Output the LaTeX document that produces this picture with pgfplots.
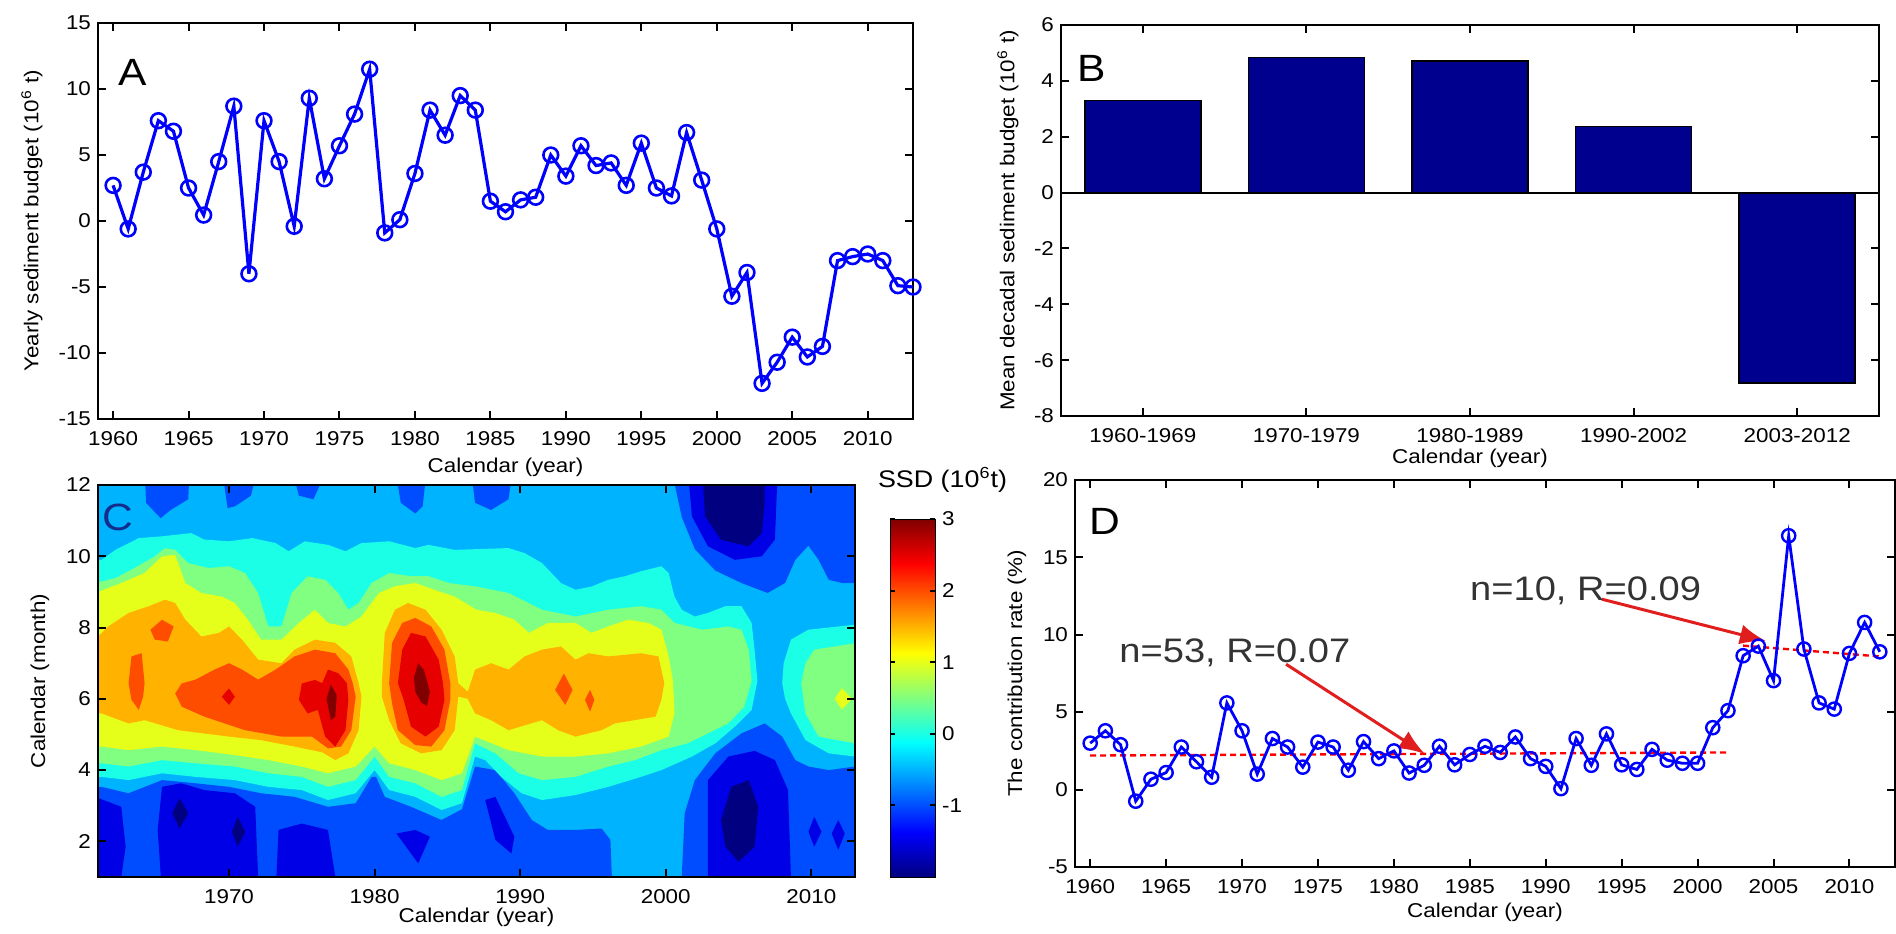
\documentclass[border=0pt]{standalone}
\usepackage{fontspec}
\setmainfont{Liberation Sans}[FakeStretch=1.12]
\usepackage{pgfplots}
\pgfplotsset{compat=1.18}
\usetikzlibrary{arrows.meta}

\definecolor{barblue}{RGB}{0,0,143}
\definecolor{arrowred}{RGB}{225,30,30}
\definecolor{letterblue}{RGB}{20,45,140}
% contour band colours (jet, 0.5 steps)
\definecolor{cN}{RGB}{0,0,128}
\definecolor{cB}{RGB}{0,0,230}
\definecolor{cR}{RGB}{0,77,255}
\definecolor{cS}{RGB}{0,179,255}
\definecolor{cC}{RGB}{26,255,230}
\definecolor{cG}{RGB}{128,255,128}
\definecolor{cY}{RGB}{230,255,26}
\definecolor{cO}{RGB}{255,179,0}
\definecolor{cRO}{RGB}{255,77,0}
\definecolor{cRD}{RGB}{230,0,0}
\definecolor{cDR}{RGB}{128,0,0}
% jet stops for the colour bar
\definecolor{j0}{RGB}{0,0,128}
\definecolor{j1}{RGB}{0,0,255}
\definecolor{j2}{RGB}{0,255,255}
\definecolor{j3}{RGB}{255,255,0}
\definecolor{j4}{RGB}{255,0,0}
\definecolor{j5}{RGB}{128,0,0}

\tikzset{letter/.style={font=\fontsize{19}{19}\selectfont, inner sep=0pt}}

\pgfplotsset{
  panel/.style={
    scale only axis,
    anchor=south west,
    axis line style={line width=1.4pt},
    tick align=inside,
    major tick length=4pt,
    every tick/.style={black, line width=1pt},
    tick label style={font=\fontsize{10}{11}\selectfont},
    label style={font=\fontsize{13.5}{15}\selectfont},
    /pgf/number format/assume math mode=true,
    /pgf/number format/set thousands separator={},
    xticklabel shift=2.5pt,
  },
  xlab/.style={every axis x label/.style={at={(axis description cs:0.5,0)}, anchor=center, yshift=-#1}},
  ylab/.style={every axis y label/.style={at={([xshift=-#1]axis description cs:0,0.5)}, rotate=90, anchor=center}},
  band/.style={draw=none, fill=#1, forget plot},
}

\begin{document}
\begin{tikzpicture}
\useasboundingbox (0,0) rectangle (948pt,466.5pt);

% ---------------- A: yearly sediment budget
\begin{axis}[panel, at={(49pt,257pt)}, width=407.5pt, height=198pt,
  xmin=1959, xmax=2013, ymin=-15, ymax=15,
  xtick={1960,1965,...,2010}, ytick={-15,-10,...,15},
  xlabel={Calendar (year)}, ylabel={Yearly sediment budget (10\textsuperscript{6} t)},
  xlab=24pt, ylab=33pt,
]
\addplot[blue, line width=1.6pt, mark=o, mark size=3.7pt, mark options={line width=1.3pt}] coordinates {
  (1960,2.7) (1961,-0.6) (1962,3.7) (1963,7.6) (1964,6.8) (1965,2.5) (1966,0.45) (1967,4.5)
  (1968,8.7) (1969,-4.0) (1970,7.6) (1971,4.5) (1972,-0.4) (1973,9.3) (1974,3.2) (1975,5.7)
  (1976,8.1) (1977,11.5) (1978,-0.9) (1979,0.1) (1980,3.6) (1981,8.4) (1982,6.5) (1983,9.5)
  (1984,8.4) (1985,1.5) (1986,0.7) (1987,1.6) (1988,1.8) (1989,5.0) (1990,3.4) (1991,5.7)
  (1992,4.2) (1993,4.4) (1994,2.7) (1995,5.9) (1996,2.5) (1997,1.9) (1998,6.7) (1999,3.1)
  (2000,-0.6) (2001,-5.7) (2002,-3.9) (2003,-12.3) (2004,-10.7) (2005,-8.8) (2006,-10.3)
  (2007,-9.5) (2008,-3.0) (2009,-2.7) (2010,-2.5) (2011,-3.0) (2012,-4.9) (2013,-5.0)
};
\node[letter] at (rel axis cs:0.043,0.874) {A};
\end{axis}

% ---------------- B: mean decadal budget
\begin{axis}[panel, at={(530.5pt,258.5pt)}, width=409pt, height=195.5pt,
  xmin=0.5, xmax=5.5, ymin=-8, ymax=6,
  xtick={1,2,3,4,5},
  xticklabels={1960-1969,1970-1979,1980-1989,1990-2002,2003-2012},
  ytick={-8,-6,...,6},
  xlabel={Calendar (year)}, ylabel={Mean decadal sediment budget (10\textsuperscript{6} t)},
  xlab=21pt, ylab=26.5pt,
]
\addplot[ybar, bar width=0.71, fill=barblue, draw=black, line width=0.8pt] coordinates {
  (1,3.29) (2,4.84) (3,4.70) (4,2.36) (5,-6.82)
};
\addplot[black, line width=1pt] coordinates {(0.5,0) (5.5,0)};
\node[letter] at (rel axis cs:0.038,0.89) {B};
\end{axis}

% ---------------- C: monthly SSD, filled contour bands
\begin{axis}[panel, at={(49pt,28pt)}, width=378.5pt, height=196pt,
  axis on top,
  xmin=1961, xmax=2013, ymin=1, ymax=12,
  xtick={1970,1980,...,2010}, ytick={2,4,...,12},
  xlabel={Calendar (year)}, ylabel={Calendar (month)},
  xlab=20pt, ylab=29pt,
]
% background band (-0.5 .. 0)
\addplot[band=cS] coordinates {(1960.5,0.5) (2013.5,0.5) (2013.5,12.5) (1960.5,12.5)} -- cycle;
% bands below -0.5
\addplot[band=cR] coordinates {(1964.2,12.5) (1964.3,11.5) (1965.3,11.07) (1966.0,11.3) (1967.2,11.6) (1967.3,12.5)} -- cycle;
\addplot[band=cR] coordinates {(1969.5,12.5) (1969.9,11.35) (1970.4,11.4) (1971.5,11.7) (1972.0,12.5)} -- cycle;
\addplot[band=cR] coordinates {(1974.3,12.5) (1974.8,11.7) (1975.8,11.6) (1976.8,12.5)} -- cycle;
\addplot[band=cR] coordinates {(1981.4,12.5) (1981.8,11.5) (1982.8,11.2) (1983.3,11.4) (1983.6,12.5)} -- cycle;
\addplot[band=cR] coordinates {(1986.6,12.5) (1986.9,11.5) (1988.0,11.3) (1989.2,11.6) (1989.5,12.5)} -- cycle;
\addplot[band=cR] coordinates {(2000.6,12.5) (2000.6,12.05) (2001.1,11.1) (2002.0,10.2) (2003.4,9.6) (2005.2,9.25)
  (2007.0,8.97) (2008.2,9.25) (2008.9,9.9) (2009.8,10.3) (2010.5,9.9) (2011.2,9.34) (2012.1,9.25) (2013.5,9.25) (2013.5,12.5)} -- cycle;
\addplot[band=cR] coordinates {(1960.5,3.53) (1961.25,3.53) (1963.1,3.35) (1965.4,3.72) (1967.7,3.63) (1970.0,3.53)
  (1972.2,3.35) (1974.5,3.25) (1976.8,2.97) (1978.7,3.07) (1979.8,3.81) (1980.1,3.81) (1980.7,3.25) (1982.5,2.97)
  (1984.6,2.6) (1986.0,2.9) (1986.9,4.1) (1988.3,4.0) (1989.6,3.35) (1990.8,2.6) (1991.9,2.32) (1993.8,2.32)
  (1995.6,2.36) (1996.2,2.04) (1996.3,1.0) (1996.3,0.5) (1960.5,0.5)} -- cycle;
\addplot[band=cR] coordinates {(2001.1,0.5) (2001.1,1.0) (2001.3,2.79) (2002.0,3.72) (2003.4,4.47) (2005.2,5.03)
  (2006.8,5.31) (2008.0,4.94) (2008.9,4.28) (2009.8,4.1) (2011.2,4.0) (2013.0,4.1) (2013.5,4.1) (2013.5,0.5)} -- cycle;
% bands below -1
\addplot[band=cB] coordinates {(1960.5,3.25) (1960.8,3.25) (1962.6,2.97) (1962.9,1.85) (1962.6,1.0) (1962.6,0.5) (1960.5,0.5)} -- cycle;
\addplot[band=cB] coordinates {(1965.4,0.5) (1965.1,2.32) (1965.4,3.53) (1966.7,3.63) (1968.3,3.44) (1970.4,3.35) (1971.8,2.97) (1972.0,1.0) (1972.0,0.5)} -- cycle;
\addplot[band=cB] coordinates {(1973.2,0.5) (1973.4,2.32) (1975.0,2.5) (1976.8,2.32) (1977.3,1.0) (1977.3,0.5)} -- cycle;
\addplot[band=cB] coordinates {(1981.5,2.22) (1982.8,2.32) (1983.8,2.13) (1983.0,1.38)} -- cycle;
\addplot[band=cB] coordinates {(1987.6,3.16) (1988.3,3.25) (1989.6,2.13) (1989.4,1.66) (1988.3,2.04)} -- cycle;
\addplot[band=cB] coordinates {(2002.9,0.5) (2002.9,3.72) (2004.3,4.38) (2006.1,4.54) (2007.5,4.28) (2008.4,3.44) (2008.6,1.0) (2008.6,0.5)} -- cycle;
\addplot[band=cB] coordinates {(2009.8,2.27) (2010.2,2.69) (2010.7,2.27) (2010.2,1.85)} -- cycle;
\addplot[band=cB] coordinates {(2011.4,2.22) (2011.85,2.6) (2012.3,2.22) (2011.85,1.76)} -- cycle;
\addplot[band=cB] coordinates {(2001.5,12.5) (2001.8,11.12) (2002.9,10.28) (2004.75,9.9) (2006.6,10.0) (2007.5,10.47) (2007.7,12.5)} -- cycle;
% bands below -1.5
\addplot[band=cN] coordinates {(1966.1,2.79) (1966.6,3.21) (1967.2,2.79) (1966.6,2.36)} -- cycle;
\addplot[band=cN] coordinates {(1970.2,2.27) (1970.6,2.69) (1971.1,2.27) (1970.6,1.85)} -- cycle;
\addplot[band=cN] coordinates {(2003.8,2.6) (2004.5,3.53) (2005.7,3.72) (2006.35,2.97) (2006.1,1.85) (2005.0,1.43) (2004.1,1.85)} -- cycle;
\addplot[band=cN] coordinates {(2002.5,12.5) (2002.7,11.12) (2003.8,10.46) (2005.7,10.28) (2006.6,10.65) (2006.8,11.5) (2006.8,12.5)} -- cycle;
% bands above 0
\addplot[band=cC] coordinates {(1960.5,9.9) (1961.25,9.9) (1962.2,10.18) (1963.8,10.51) (1965.4,10.56) (1967.4,10.65)
  (1968.3,10.47) (1970.0,10.42) (1971.6,10.51) (1973.2,10.37) (1974.1,10.14) (1975.2,10.42) (1976.8,10.32)
  (1978.0,10.14) (1979.1,10.37) (1981.0,10.42) (1982.8,10.23) (1983.7,10.32) (1985.5,10.18) (1987.0,10.2)
  (1989.2,10.23) (1990.3,10.09) (1991.5,9.81) (1992.8,9.25) (1993.8,9.06) (1994.9,9.15) (1996.05,9.34)
  (1997.2,9.44) (1998.3,9.58) (1999.7,9.72) (2000.2,9.53) (2000.6,8.87) (2001.1,8.5) (2002.0,8.31)
  (2002.9,8.41) (2004.1,8.6) (2005.2,8.6) (2005.9,8.13) (2006.1,7.38) (2006.3,6.5)
  (2005.9,5.69) (2004.75,5.22) (2003.4,4.75) (2001.8,4.38) (1999.7,4.0) (1998.3,3.81) (1996.05,3.53)
  (1993.8,3.3) (1991.5,3.16) (1990.1,3.35) (1988.7,3.81) (1987.6,4.28) (1986.9,4.38) (1986.0,3.07)
  (1984.6,2.88) (1982.8,3.25) (1981.0,3.44) (1980.0,4.0) (1978.7,3.35) (1976.8,3.16) (1975.0,3.44)
  (1972.7,3.53) (1970.4,3.72) (1967.7,3.81) (1965.4,3.91) (1963.1,3.72) (1961.25,3.81) (1960.5,3.81)} -- cycle;
\addplot[band=cC] coordinates {(2013.5,8.08) (2013.0,8.08) (2009.8,7.94) (2008.6,7.66) (2008.1,7.0) (2008.0,6.44)
  (2008.2,6.0) (2008.6,5.59) (2009.6,4.84) (2011.2,4.47) (2013.0,4.38) (2013.5,4.38)} -- cycle;
% bands above 0.5
\addplot[band=cG] coordinates {(1960.5,9.25) (1960.8,9.25) (1962.2,9.39) (1963.5,9.67) (1964.9,10.0) (1965.6,10.23)
  (1966.3,10.18) (1967.2,9.81) (1968.6,9.67) (1970.0,9.72) (1971.1,9.53) (1972.0,8.97) (1972.7,8.03)
  (1973.6,8.03) (1974.3,8.97) (1975.4,9.44) (1976.6,9.34) (1977.5,8.97) (1978.2,8.5) (1978.9,8.69)
  (1979.8,9.25) (1981.0,9.53) (1982.5,9.44) (1983.7,9.44) (1985.1,9.25) (1987.0,9.15) (1989.2,8.97)
  (1991.5,8.5) (1993.8,8.31) (1996.05,8.5) (1998.3,8.6) (1999.7,8.5) (2000.6,8.13) (2002.5,7.94)
  (2004.3,8.03) (2005.2,7.94) (2005.7,7.38) (2005.9,6.5)
  (2005.4,5.78) (2004.3,5.31) (2002.9,5.03) (2001.5,4.75) (1999.7,4.56) (1997.9,4.28) (1996.05,4.1)
  (1993.8,3.81) (1991.5,3.72) (1989.9,3.91) (1988.3,4.47) (1986.9,4.75) (1986.0,3.44) (1984.6,3.25)
  (1982.8,3.63) (1981.0,3.81) (1980.0,4.38) (1978.7,3.72) (1976.8,3.53) (1975.0,3.81) (1972.7,3.91)
  (1970.4,4.1) (1967.7,4.19) (1965.4,4.28) (1963.1,4.1) (1961.25,4.19) (1960.5,4.19)} -- cycle;
\addplot[band=cG] coordinates {(2013.5,7.56) (2013.0,7.56) (2010.2,7.38) (2009.6,7.0) (2009.3,6.44) (2009.6,5.59)
  (2010.5,4.94) (2013.0,4.75) (2013.5,4.75)} -- cycle;
% bands above 1
\addplot[band=cY] coordinates {(1960.5,8.97) (1960.8,8.97) (1962.6,9.25) (1964.2,9.53) (1965.4,10.0) (1966.3,10.04)
  (1967.0,9.25) (1968.1,8.97) (1969.5,8.87) (1970.4,8.69) (1971.3,8.22) (1972.2,7.66) (1973.6,7.66)
  (1974.8,8.13) (1975.9,8.5) (1976.8,8.13) (1978.0,8.03) (1979.1,8.31) (1980.3,8.97) (1981.4,9.16)
  (1982.8,9.25) (1984.1,9.06) (1985.5,8.87) (1987.0,8.5) (1988.3,8.41) (1989.6,8.22) (1990.6,7.85)
  (1991.9,8.13) (1993.8,8.13) (1994.9,7.85) (1996.05,8.03) (1997.4,8.22) (1998.8,8.13) (1999.7,7.94)
  (2000.2,7.19) (2000.5,6.5)
  (2000.6,5.59) (2000.2,4.94) (1998.3,4.66) (1996.05,4.47) (1993.8,4.38) (1991.5,4.38) (1989.2,4.56)
  (1986.9,4.94) (1986.0,3.91) (1984.6,3.72) (1982.8,4.0) (1981.0,4.19) (1980.0,4.66) (1978.7,4.1)
  (1976.8,3.91) (1975.0,4.1) (1972.7,4.28) (1970.4,4.42) (1967.7,4.56) (1965.4,4.66) (1963.1,4.56)
  (1961.25,4.66) (1960.5,4.66)} -- cycle;
\addplot[band=cY] coordinates {(2011.6,6.0) (2012.1,6.3) (2012.8,6.0) (2012.1,5.7)} -- cycle;
% bands above 1.5
\addplot[band=cO] coordinates {(1960.5,7.66) (1960.8,7.66) (1961.7,8.03) (1963.1,8.41) (1964.5,8.6) (1965.6,8.78)
  (1966.3,8.69) (1967.0,8.22) (1968.1,7.75) (1969.3,7.85) (1970.0,8.03) (1970.9,7.66) (1972.0,7.1)
  (1973.6,7.0) (1974.5,7.38) (1975.9,7.66) (1977.3,7.57) (1978.4,7.19) (1978.9,6.44) (1979.1,6.06)
  (1978.9,5.12) (1978.2,4.47) (1977.3,4.28) (1976.4,4.5) (1974.5,4.66) (1972.2,4.84) (1970.0,4.94)
  (1966.5,5.12) (1964.2,5.4) (1963.1,5.31) (1961.25,5.59) (1960.5,5.59)} -- cycle;
\addplot[band=cO] coordinates {(1980.5,6.44) (1980.7,7.85) (1981.4,8.5) (1982.3,8.69) (1983.5,8.5) (1984.6,7.94)
  (1985.5,7.19) (1985.75,6.44) (1986.4,6.2) (1986.9,6.82) (1988.0,7.0) (1989.2,6.82) (1990.3,7.19)
  (1991.5,7.38) (1992.8,7.47) (1993.8,7.1) (1994.7,7.28) (1996.05,7.19) (1998.3,7.28) (1999.5,7.19)
  (1999.9,6.44) (1999.7,5.97) (1999.3,5.5) (1996.5,5.31) (1995.6,5.12) (1993.8,4.94) (1992.6,5.12)
  (1991.5,5.4) (1989.2,5.12) (1988.0,5.4) (1986.9,5.59) (1986.4,6.0) (1985.75,6.06) (1985.5,5.12)
  (1984.6,4.56) (1983.2,4.47) (1981.8,4.75) (1981.0,5.4) (1980.5,6.06)} -- cycle;
% bands above 2
\addplot[band=cRO] coordinates {(1964.6,7.94) (1965.4,8.22) (1966.2,8.03) (1965.8,7.61) (1964.9,7.66)} -- cycle;
\addplot[band=cRO] coordinates {(1963.1,6.44) (1963.3,7.19) (1964.0,7.28) (1964.2,6.44) (1964.1,6.06) (1963.8,5.69) (1963.3,5.97)} -- cycle;
\addplot[band=cRO] coordinates {(1966.3,6.15) (1966.75,6.43) (1967.7,6.54) (1969.0,6.82) (1970.0,7.0) (1970.9,6.82)
  (1972.0,6.54) (1973.2,6.82) (1974.5,7.19) (1975.9,7.38) (1977.3,7.28) (1978.2,6.82) (1978.5,6.44)
  (1978.7,6.06) (1978.4,5.12) (1977.7,4.66) (1976.8,4.61) (1975.7,4.94) (1973.6,4.94) (1971.1,5.12)
  (1968.3,5.5) (1966.75,5.78)} -- cycle;
\addplot[band=cRO] coordinates {(1981.0,6.44) (1981.2,7.57) (1981.9,8.13) (1982.8,8.27) (1983.9,8.03) (1984.8,7.38)
  (1985.2,6.44) (1985.2,5.97) (1984.8,5.12) (1983.9,4.66) (1982.8,4.7) (1981.6,5.12) (1981.2,5.87)} -- cycle;
\addplot[band=cRO] coordinates {(1992.4,6.25) (1993.0,6.71) (1993.6,6.25) (1993.1,5.83)} -- cycle;
\addplot[band=cRO] coordinates {(1994.45,5.97) (1994.8,6.25) (1995.1,5.97) (1994.8,5.64)} -- cycle;
% bands above 2.5
\addplot[band=cRD] coordinates {(1976.4,6.44) (1976.8,6.82) (1977.5,6.72) (1978.1,6.44) (1978.2,5.97) (1978.0,5.12)
  (1977.3,4.66) (1976.6,4.94) (1976.1,5.69) (1975.4,5.59) (1974.8,5.97) (1975.0,6.43) (1975.9,6.53)} -- cycle;
\addplot[band=cRD] coordinates {(1981.6,6.44) (1981.9,7.38) (1982.5,7.85) (1983.5,7.75) (1984.4,7.1) (1984.7,6.44)
  (1984.8,5.97) (1984.4,5.22) (1983.5,4.94) (1982.5,5.22) (1982.0,5.97)} -- cycle;
\addplot[band=cRD] coordinates {(1969.5,6.06) (1970.0,6.29) (1970.4,6.06) (1970.0,5.83)} -- cycle;
% bands above 3
\addplot[band=cDR] coordinates {(1982.7,6.6) (1983.0,7.0) (1983.4,6.8) (1983.8,6.2) (1983.6,5.8) (1983.2,5.9) (1982.8,6.2)} -- cycle;
\addplot[band=cDR] coordinates {(1976.7,6.0) (1977.0,6.4) (1977.4,6.1) (1977.3,5.5) (1977.0,5.4)} -- cycle;
\node[letter, text=letterblue] at (rel axis cs:0.026,0.918) {C};
\end{axis}

% ---------------- colour bar (jet, -2 .. 3)
\begin{axis}[panel, at={(445pt,28pt)}, width=22.5pt, height=179pt,
  axis on top,
  xmin=0, xmax=1, ymin=-2, ymax=3,
  xtick=\empty, ytick={-1,0,1,2,3}, yticklabel pos=right,
  major tick length=2.5pt, axis line style={line width=0.5pt},
  title={SSD (10\textsuperscript{6}t)},
  title style={at={(0.5,1)}, anchor=center, yshift=13.5pt, xshift=15pt, font=\fontsize{12}{13}\selectfont},
]
\addplot[draw=none, bottom color=j0, top color=j1] coordinates {(0,-2) (1,-2) (1,-1.375) (0,-1.375)} -- cycle;
\addplot[draw=none, bottom color=j1, top color=j2] coordinates {(0,-1.38) (1,-1.38) (1,-0.125) (0,-0.125)} -- cycle;
\addplot[draw=none, bottom color=j2, top color=j3] coordinates {(0,-0.13) (1,-0.13) (1,1.125) (0,1.125)} -- cycle;
\addplot[draw=none, bottom color=j3, top color=j4] coordinates {(0,1.12) (1,1.12) (1,2.375) (0,2.375)} -- cycle;
\addplot[draw=none, bottom color=j4, top color=j5] coordinates {(0,2.37) (1,2.37) (1,3) (0,3)} -- cycle;
\end{axis}

% ---------------- D: contribution rate
\begin{axis}[panel, at={(537.5pt,33pt)}, width=410pt, height=193.5pt,
  xmin=1959, xmax=2013, ymin=-5, ymax=20,
  xtick={1960,1965,...,2010}, ytick={-5,0,...,20},
  xlabel={Calendar (year)}, ylabel={The contribution rate (\%)},
  xlab=22.5pt, ylab=29pt,
]
\addplot[red, line width=1.2pt, dash pattern=on 3pt off 2pt] coordinates {(1960,2.2) (2002,2.4)};
\addplot[red, line width=1.2pt, dash pattern=on 3pt off 2pt] coordinates {(2003,9.3) (2012,8.6)};
\addplot[blue, line width=1.4pt, mark=o, mark size=3.3pt, mark options={line width=1.2pt}] coordinates {
  (1960,3.0) (1961,3.8) (1962,2.9) (1963,-0.75) (1964,0.67) (1965,1.1) (1966,2.75) (1967,1.8)
  (1968,0.8) (1969,5.6) (1970,3.8) (1971,1.0) (1972,3.3) (1973,2.75) (1974,1.45) (1975,3.07)
  (1976,2.75) (1977,1.25) (1978,3.1) (1979,2.0) (1980,2.5) (1981,1.07) (1982,1.57) (1983,2.8)
  (1984,1.6) (1985,2.27) (1986,2.8) (1987,2.4) (1988,3.4) (1989,2.0) (1990,1.5) (1991,0.06)
  (1992,3.3) (1993,1.57) (1994,3.6) (1995,1.6) (1996,1.3) (1997,2.6) (1998,1.9) (1999,1.7)
  (2000,1.7) (2001,4.0) (2002,5.1) (2003,8.65) (2004,9.27) (2005,7.04) (2006,16.4) (2007,9.08)
  (2008,5.6) (2009,5.2) (2010,8.8) (2011,10.8) (2012,8.9)
};
\addplot[arrowred, line width=1.5pt, -{Latex[length=13pt,width=10pt]}] coordinates {(1972.9,8.1) (1982.05,2.3)};
\addplot[arrowred, line width=1.5pt, -{Latex[length=13pt,width=10pt]}] coordinates {(1993.7,12.3) (2004.5,9.6)};
\node[anchor=base west, inner sep=0pt, font=\fontsize{17}{17}\selectfont, text=black!80] at (axis cs:1961.9,8.22) {n=53, R=0.07};
\node[anchor=base west, inner sep=0pt, font=\fontsize{17}{17}\selectfont, text=black!80] at (axis cs:1985.0,12.19) {n=10, R=0.09};
\node[letter] at (rel axis cs:0.037,0.894) {D};
\end{axis}
\end{tikzpicture}
\end{document}
